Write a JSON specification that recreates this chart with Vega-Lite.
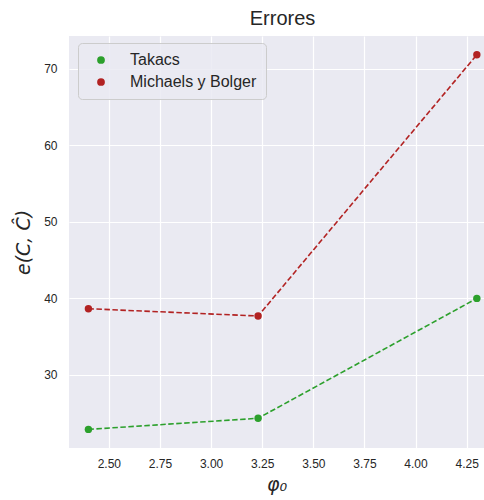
{
  "$schema": "https://vega.github.io/schema/vega-lite/v6.json",
  "autosize": {"type": "none"},
  "padding": {"left": 69, "top": 36, "right": 0, "bottom": 52},
  "width": 415,
  "height": 412,
  "background": "white",
  "title": {"text": "Errores", "font": "Liberation Sans", "fontSize": 20, "fontWeight": "normal", "color": "#262626", "offset": 7, "anchor": "middle", "dx": 6},
  "config": {
    "view": {"fill": "#eaeaf2", "stroke": null},
    "axis": {"domain": false, "ticks": false, "grid": true, "gridColor": "white", "gridWidth": 1.2, "labelFont": "Liberation Sans", "labelFontSize": 12, "labelColor": "#262626", "titleFont": "DejaVu Sans", "titleFontStyle": "italic", "titleFontWeight": "normal", "titleFontSize": 19, "titleColor": "#262626"}
  },
  "data": {"values": [
    {"phi": 2.40, "e": 22.9, "serie": "Takacs"},
    {"phi": 3.23, "e": 24.35, "serie": "Takacs"},
    {"phi": 4.30, "e": 40.0, "serie": "Takacs"},
    {"phi": 2.40, "e": 38.65, "serie": "Michaels y Bolger"},
    {"phi": 3.23, "e": 37.7, "serie": "Michaels y Bolger"},
    {"phi": 4.30, "e": 71.8, "serie": "Michaels y Bolger"}
  ]},
  "encoding": {
    "x": {"field": "phi", "type": "quantitative", "scale": {"domain": [2.305, 4.335], "nice": false, "zero": false},
      "axis": {"values": [2.5, 2.75, 3.0, 3.25, 3.5, 3.75, 4.0, 4.25], "format": ".2f", "labelPadding": 10, "title": "φ₀", "titlePadding": 6}},
    "y": {"field": "e", "type": "quantitative", "scale": {"domain": [20.47, 74.25], "nice": false, "zero": false},
      "axis": {"values": [30, 40, 50, 60, 70], "labelPadding": 12, "title": "e(C, Ĉ)", "titlePadding": 10}},
    "color": {"field": "serie", "type": "nominal",
       "scale": {"domain": ["Takacs", "Michaels y Bolger"], "range": ["#2ca02c", "#b22222"]},
       "legend": {"title": null, "orient": "none", "legendX": 9, "legendY": 7, "labelFont": "Liberation Sans", "labelFontSize": 16, "labelColor": "#262626", "symbolType": "circle", "symbolSize": 60, "symbolStrokeWidth": 0, "symbolDash": [], "symbolFillColor": null, "labelOffset": 21, "padding": 9, "symbolOffset": 6, "rowPadding": 6, "fillColor": "rgba(234,234,242,0.85)", "strokeColor": "#cccccc", "cornerRadius": 4}}
  },
  "layer": [
    {"mark": {"type": "line", "strokeDash": [5.5, 2.5], "strokeWidth": 1.6}},
    {"mark": {"type": "circle", "size": 55, "opacity": 1}}
  ]
}
